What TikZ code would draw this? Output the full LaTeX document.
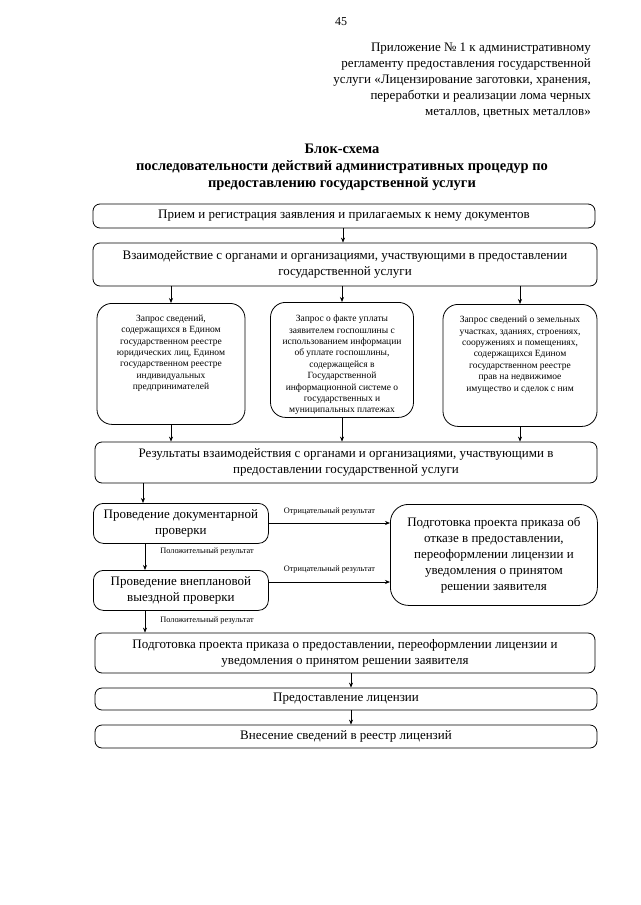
\documentclass[tikz,border=0pt]{standalone}
\usepackage{fontspec}
\setmainfont{Liberation Serif}
\usetikzlibrary{arrows.meta}
\begin{document}
\begin{tikzpicture}[x=1pt,y=-1pt,
  box/.style={draw,line width=0.8pt,rounded corners=7pt,inner sep=2pt,align=center,
    font=\fontsize{13}{16}\selectfont},
  smallbox/.style={draw,line width=0.8pt,rounded corners=15pt,inner sep=2pt,align=center,
    font=\fontsize{9.5}{11.4}\selectfont},
  midbox/.style={draw,line width=0.8pt,rounded corners=10pt,inner sep=2pt,align=center,
    font=\fontsize{13}{16}\selectfont},
  lbl/.style={font=\fontsize{8.3}{9}\selectfont,inner sep=0pt},
  arr/.style={-{Stealth[length=5pt,width=4pt]},line width=0.7pt}]
\useasboundingbox (0,0) rectangle (640,905);
\fill[white] (0,0) rectangle (640,905);

\node[font=\fontsize{12}{14}\selectfont] (pg) at (341,22) {45};
\node[anchor=north east,align=right,font=\fontsize{13}{16}\selectfont,inner sep=0pt] (app) at (591,42.5)
 {Приложение № 1 к административному\\
  регламенту предоставления государственной\\
  услуги «Лицензирование заготовки, хранения,\\
  переработки и реализации лома черных\\
  металлов, цветных металлов»};

\node[align=center,font=\bfseries\fontsize{14.5}{17}\selectfont,inner sep=0pt] (title) at (342,167.5)
 {Блок-схема\\
  последовательности действий административных процедур по\\
  предоставлению государственной услуги};

\node[box,minimum width=502pt,minimum height=24pt] (A) at (344,216)
 {Прием и регистрация заявления и прилагаемых к нему документов};
\node[box,minimum width=504pt,minimum height=43pt] (B) at (345,264.5)
 {Взаимодействие с органами и организациями, участвующими в предоставлении\\
  государственной услуги};

\node[smallbox,minimum width=148pt,minimum height=121pt,anchor=north] (S1) at (171,303)
 {Запрос сведений,\\
  содержащихся в Едином\\
  государственном реестре\\
  юридических лиц, Едином\\
  государственном реестре\\
  индивидуальных\\
  предпринимателей\\[12pt]};
\node[smallbox,minimum width=143pt,minimum height=115pt,anchor=north] (S2) at (342,302)
 {\rule{0pt}{17pt}Запрос о факте уплаты\\
  заявителем госпошлины с\\
  использованием информации\\
  об уплате госпошлины,\\
  содержащейся в\\
  Государственной\\
  информационной системе о\\
  государственных и\\
  муниципальных платежах};
\node[smallbox,minimum width=154pt,minimum height=122pt,anchor=north] (S3) at (520,304)
 {Запрос сведений о земельных\\
  участках, зданиях, строениях,\\
  сооружениях и помещениях,\\
  содержащихся Едином\\
  государственном реестре\\
  прав на недвижимое\\
  имущество и сделок с ним\\[12pt]};

\node[box,minimum width=502pt,minimum height=41pt] (C) at (346,462.5)
 {Результаты взаимодействия с органами и организациями, участвующими в\\
  предоставлении государственной услуги};

\node[midbox,minimum width=175pt,minimum height=40pt,anchor=north west] (D) at (93,503)
 {Проведение документарной\\проверки};
\node[midbox,minimum width=175pt,minimum height=40pt,anchor=north west] (E) at (93,570)
 {Проведение внеплановой\\выездной проверки};
\node[midbox,rounded corners=18pt,minimum width=207pt,minimum height=101pt,anchor=north west] (G) at (390,504)
 {Подготовка проекта приказа об\\
  отказе в предоставлении,\\
  переоформлении лицензии и\\
  уведомления о принятом\\
  решении заявителя};

\node[box,minimum width=500pt,minimum height=40pt] (F) at (345,653)
 {Подготовка проекта приказа о предоставлении, переоформлении лицензии и\\
  уведомления о принятом решении заявителя};
\node[box,minimum width=502pt,minimum height=22pt] (H) at (346,699)
 {Предоставление лицензии};
\node[box,minimum width=502pt,minimum height=23pt] (I) at (346,736.5)
 {Внесение сведений в реестр лицензий};

% arrows
\draw[arr] (A.south -| 343,0) -- (B.north -| 343,0);
\draw[arr] (B.south -| S1.north) -- (S1.north);
\draw[arr] (B.south -| S2.north) -- (S2.north);
\draw[arr] (B.south -| S3.north) -- (S3.north);
\draw[arr] (S1.south) -- (C.north -| S1.south);
\draw[arr] (S2.south) -- (C.north -| S2.south);
\draw[arr] (S3.south) -- (C.north -| S3.south);
\draw[arr] (C.south -| 143,0) -- (D.north -| 143,0);
\draw[arr] (D.south -| 145,0) -- (E.north -| 145,0) node[lbl,pos=0.3,anchor=west,xshift=15pt] (l1) {Положительный результат};
\draw[arr] (E.south -| 145,0) -- (F.north -| 145,0) node[lbl,pos=0.45,anchor=west,xshift=15pt] (l2) {Положительный результат};
\draw[arr] (D.east |- 0,523) -- (G.west |- 0,523) node[lbl,midway,above=7pt] (l3) {Отрицательный результат};
\draw[arr] (E.east |- 0,582) -- (G.west |- 0,582) node[lbl,midway,above=8pt] (l4) {Отрицательный результат};
\draw[arr] (F.south -| 351,0) -- (H.north -| 351,0);
\draw[arr] (H.south -| 351,0) -- (I.north -| 351,0);
\end{tikzpicture}
\end{document}
